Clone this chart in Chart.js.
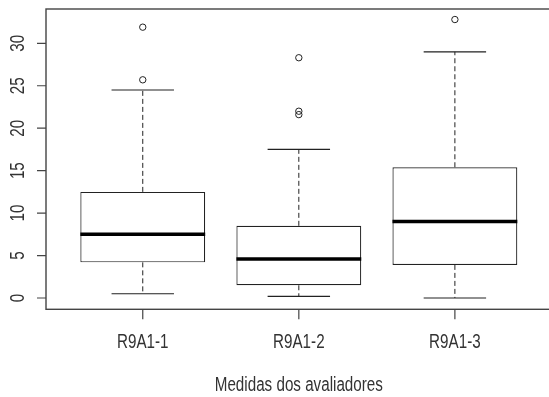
<!DOCTYPE html>
<html>
<head>
<meta charset="utf-8">
<script src="https://cdn.jsdelivr.net/npm/chart.js@4/dist/chart.umd.min.js"></script>
<style>
  html, body { margin: 0; padding: 0; background: #fff; }
  #wrap { width: 549px; height: 397px; position: relative; }
</style>
</head>
<body>
<div id="wrap"><canvas id="c"></canvas></div>
<script>
// Five-number summaries per evaluator, plus points beyond the whiskers
const categories = ['R9A1-1', 'R9A1-2', 'R9A1-3'];
const whiskerLow = [0.5, 0.2, 0.0];
const q1 = [4.2, 1.5, 3.9];
const median = [7.5, 4.6, 9.0];
const q3 = [12.5, 8.5, 15.4];
const whiskerHigh = [24.5, 17.5, 29.0];
const outliers = [[25.7, 31.9], [21.6, 22.0, 28.3], [32.8]];
const yTicks = [0, 5, 10, 15, 20, 25, 30];
const xTitle = 'Medidas dos avaliadores';

const INK = '#222';
const TEXT = '#333';
const FONT = '20px "Liberation Sans", Arial, sans-serif';
const SQUEEZE = 0.76;   // narrow lettering, like the R graphics device

const positions = categories.map((_, i) => i + 1);

const boxData = positions.map((x, i) => ({ x: x, y: [q1[i], q3[i]] }));
const outlierData = [];
outliers.forEach((arr, i) => arr.forEach(v => outlierData.push({ x: positions[i], y: v })));

function squeezedText(ctx, text, x, y, angle) {
  ctx.save();
  ctx.translate(x, y);
  if (angle) ctx.rotate(angle);
  ctx.scale(SQUEEZE, 1);
  ctx.fillText(text, 0, 0);
  ctx.restore();
}

const boxplotDecor = {
  id: 'boxplotDecor',
  afterDatasetsDraw(chart) {
    const ctx = chart.ctx;
    const xs = chart.scales.x, ys = chart.scales.y;
    const unit = xs.getPixelForValue(1) - xs.getPixelForValue(0);
    ctx.save();
    ctx.strokeStyle = INK;
    positions.forEach((p, i) => {
      const cx = xs.getPixelForValue(p);
      const capHalf = unit * 0.2;
      const boxHalf = unit * 0.4;
      // dashed whiskers
      ctx.lineWidth = 1;
      ctx.setLineDash([5, 3]);
      ctx.beginPath();
      ctx.moveTo(cx, ys.getPixelForValue(q3[i]));
      ctx.lineTo(cx, ys.getPixelForValue(whiskerHigh[i]));
      ctx.moveTo(cx, ys.getPixelForValue(q1[i]));
      ctx.lineTo(cx, ys.getPixelForValue(whiskerLow[i]));
      ctx.stroke();
      // whisker caps
      ctx.setLineDash([]);
      ctx.lineWidth = 1.2;
      ctx.beginPath();
      [whiskerHigh[i], whiskerLow[i]].forEach(v => {
        const py = ys.getPixelForValue(v);
        ctx.moveTo(cx - capHalf, py);
        ctx.lineTo(cx + capHalf, py);
      });
      ctx.stroke();
      // median bar
      ctx.lineWidth = 3.5;
      ctx.strokeStyle = '#000';
      ctx.beginPath();
      const my = ys.getPixelForValue(median[i]);
      ctx.moveTo(cx - boxHalf, my);
      ctx.lineTo(cx + boxHalf, my);
      ctx.stroke();
      ctx.strokeStyle = INK;
    });
    ctx.restore();
  },
  afterDraw(chart) {
    const ctx = chart.ctx;
    const xs = chart.scales.x, ys = chart.scales.y;
    const left = xs.getPixelForValue(xs.min);
    const right = xs.getPixelForValue(3.62);
    const top = ys.getPixelForValue(ys.max);
    const bottom = ys.getPixelForValue(ys.min);
    ctx.save();
    // plot frame
    ctx.strokeStyle = '#444';
    ctx.lineWidth = 1.4;
    ctx.strokeRect(left, top, right - left, bottom - top);
    // axis ticks
    ctx.lineWidth = 1.2;
    ctx.strokeStyle = '#444';
    ctx.beginPath();
    yTicks.forEach(v => {
      const py = ys.getPixelForValue(v);
      ctx.moveTo(left, py);
      ctx.lineTo(left - 9, py);
    });
    positions.forEach(p => {
      const px = xs.getPixelForValue(p);
      ctx.moveTo(px, bottom);
      ctx.lineTo(px, bottom + 10);
    });
    ctx.stroke();
    // labels
    ctx.fillStyle = TEXT;
    ctx.font = FONT;
    ctx.textAlign = 'center';
    ctx.textBaseline = 'middle';
    yTicks.forEach(v => {
      squeezedText(ctx, String(v), left - 28, ys.getPixelForValue(v), -Math.PI / 2);
    });
    ctx.textBaseline = 'alphabetic';
    categories.forEach((c, i) => {
      squeezedText(ctx, c, xs.getPixelForValue(positions[i]), bottom + 39);
    });
    squeezedText(ctx, xTitle, xs.getPixelForValue(2), bottom + 82);
    ctx.restore();
  }
};

new Chart(document.getElementById('c'), {
  type: 'bar',
  data: {
    datasets: [
      {
        type: 'bar',
        data: boxData,
        backgroundColor: '#fff',
        borderColor: INK,
        borderWidth: 1.2,
        borderSkipped: false,
        barPercentage: 0.8,
        categoryPercentage: 1.0
      },
      {
        type: 'scatter',
        data: outlierData,
        pointStyle: 'circle',
        radius: 3.2,
        borderWidth: 1,
        borderColor: INK,
        backgroundColor: 'rgba(0,0,0,0)'
      }
    ]
  },
  options: {
    responsive: true,
    maintainAspectRatio: false,
    animation: false,
    devicePixelRatio: 1,
    layout: { padding: { left: 46, top: 9, right: 0, bottom: 87.7 } },
    plugins: { legend: { display: false }, tooltip: { enabled: false } },
    scales: {
      x: {
        type: 'linear',
        min: 0.38,
        max: 3.571,
        offset: false,
        display: false,
        afterBuildTicks: s => { s.ticks = positions.map(v => ({ value: v })); }
      },
      y: {
        min: -1.33,
        max: 34.04,
        display: false
      }
    }
  },
  plugins: [boxplotDecor]
});
</script>
</body>
</html>
